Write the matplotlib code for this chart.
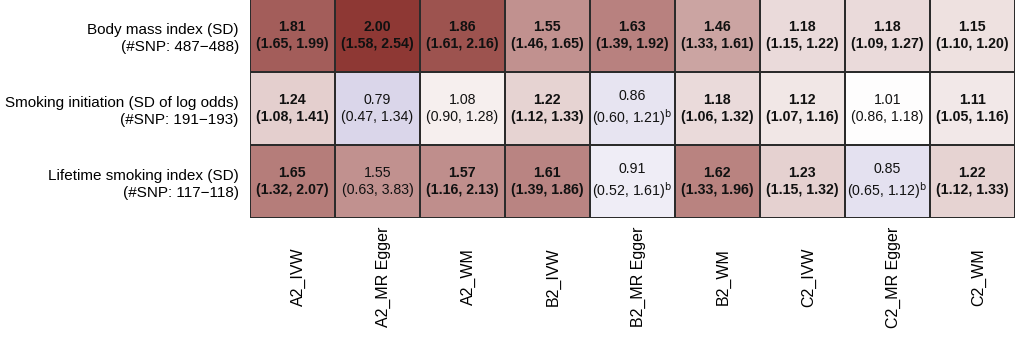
import matplotlib
matplotlib.use("Agg")
import matplotlib.pyplot as plt
from matplotlib.colors import LinearSegmentedColormap, TwoSlopeNorm
from matplotlib.transforms import ScaledTranslation
import numpy as np

plt.rcParams['font.family'] = ['Liberation Sans', 'DejaVu Sans']

methods = ["A2_IVW", "A2_MR Egger", "A2_WM", "B2_IVW", "B2_MR Egger", "B2_WM",
           "C2_IVW", "C2_MR Egger", "C2_WM"]
exposures = ["Body mass index (SD)\n(#SNP: 487\u2212488)",
             "Smoking initiation (SD of log odds)\n(#SNP: 191\u2212193)",
             "Lifetime smoking index (SD)\n(#SNP: 117\u2212118)"]

est = [[1.81, 2.00, 1.86, 1.55, 1.63, 1.46, 1.18, 1.18, 1.15],
       [1.24, 0.79, 1.08, 1.22, 0.86, 1.18, 1.12, 1.01, 1.11],
       [1.65, 1.55, 1.57, 1.61, 0.91, 1.62, 1.23, 0.85, 1.22]]
lo = [[1.65, 1.58, 1.61, 1.46, 1.39, 1.33, 1.15, 1.09, 1.10],
      [1.08, 0.47, 0.90, 1.12, 0.60, 1.06, 1.07, 0.86, 1.05],
      [1.32, 0.63, 1.16, 1.39, 0.52, 1.33, 1.15, 0.65, 1.12]]
hi = [[1.99, 2.54, 2.16, 1.65, 1.92, 1.61, 1.22, 1.27, 1.20],
      [1.41, 1.34, 1.28, 1.33, 1.21, 1.32, 1.16, 1.18, 1.16],
      [2.07, 3.83, 2.13, 1.86, 1.61, 1.96, 1.32, 1.12, 1.33]]
# footnote "b" marks
note_b = [[0, 0, 0, 0, 0, 0, 0, 0, 0],
          [0, 0, 0, 0, 1, 0, 0, 0, 0],
          [0, 0, 0, 0, 1, 0, 0, 1, 0]]

est = np.array(est)
cmap = LinearSegmentedColormap.from_list("bwr_muted", ["#4f3c9b", "#ffffff", "#8e3834"])
norm = TwoSlopeNorm(vmin=0.0, vcenter=1.0, vmax=2.0)

fig = plt.figure(figsize=(10.2, 3.45), dpi=100)
ax = fig.add_axes([0.245, 0.368, 0.75, 0.635])
ax.pcolormesh(est, cmap=cmap, norm=norm, edgecolors="#2b2b2b", linewidth=1.2)
ax.set_xlim(0, len(methods))
ax.set_ylim(len(exposures), 0)

for i in range(len(exposures)):
    for j in range(len(methods)):
        sig = lo[i][j] > 1 or hi[i][j] < 1
        w = "bold" if sig else "normal"
        ci = "(%.2f, %.2f)" % (lo[i][j], hi[i][j])
        if note_b[i][j]:
            ci += r"$^{\mathrm{b}}$"
        ax.text(j + 0.5, i + 0.5, "%.2f\n%s" % (est[i][j], ci), ha="center", va="center",
                fontsize=10.2, fontweight=w, linespacing=1.3, color="#111111")

# column labels, centred a bit below the grid
ax.set_xticks([])
shift = ScaledTranslation(0.06, -0.59, fig.dpi_scale_trans)
for j, m in enumerate(methods):
    ax.text(j + 0.5, 0, m, rotation=90, ha="center", va="center", fontsize=11.5,
            transform=ax.get_xaxis_transform() + shift)

ax.set_yticks(np.arange(len(exposures)) + 0.5)
ax.set_yticklabels(exposures, fontsize=11, ha="right", multialignment="right",
                   linespacing=1.25)
ax.tick_params(length=0, pad=8)
for s in ax.spines.values():
    s.set_visible(False)

fig.savefig("out.png", dpi=100)
